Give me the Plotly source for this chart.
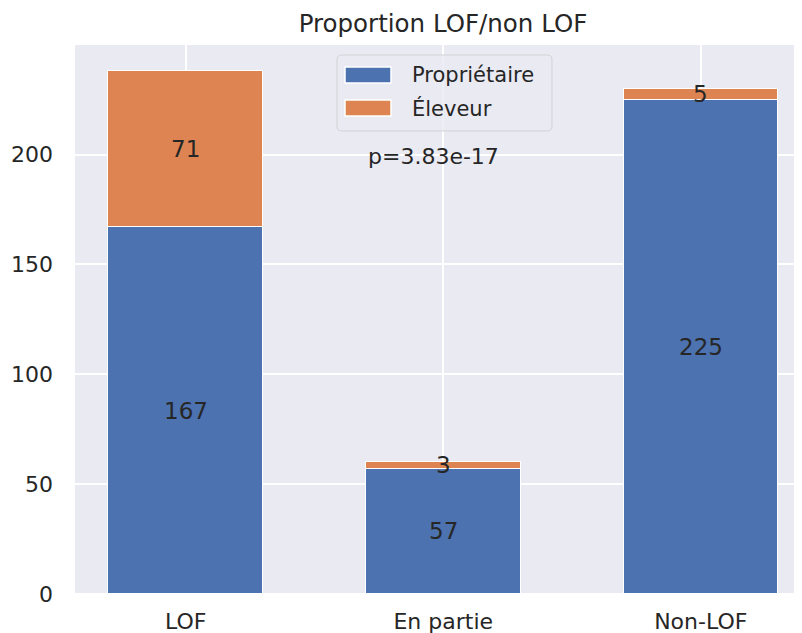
import plotly.graph_objects as go

# ---- data ----
categories = ["LOF", "En partie", "Non-LOF"]
series_names = ["Propriétaire", "Éleveur"]
proprietaire = [167, 57, 225]
eleveur = [71, 3, 5]
title_text = "Proportion LOF/non LOF"
pvalue_text = "p=3.83e-17"
y_ticks = [0, 50, 100, 150, 200]

BLUE = "#4C72B0"
ORANGE = "#DD8452"
BG = "#EAEAF2"
TXT = "#262626"
FONT = "DejaVu Sans"

# page body has an 8px default margin; compensate so plot lands where the reference has it
OFF = 8
PAGE_W, PAGE_H = 802, 633
W, H = PAGE_W - OFF, PAGE_H - OFF
# plot area in page pixels: left 75, right 802, top 45, bottom 594
ML, MR, MT, MB = 75 - OFF, 0, 45 - OFF, PAGE_H - 594
PW, PH = W - ML - MR, H - MT - MB

fig = go.Figure()
for name, vals, col in [(series_names[0], proprietaire, BLUE), (series_names[1], eleveur, ORANGE)]:
    fig.add_trace(go.Bar(
        x=categories, y=vals, name=name, width=0.6,
        marker=dict(color=col, line=dict(color="white", width=1.5)),
        showlegend=False,
    ))

annotations = []
for i, c in enumerate(categories):
    annotations.append(dict(x=c, y=proprietaire[i] / 2, text=str(proprietaire[i]), xref="x", yref="y",
                            showarrow=False, font=dict(family=FONT, size=23, color=TXT)))
    annotations.append(dict(x=c, y=proprietaire[i] + eleveur[i] / 2, text=str(eleveur[i]), xref="x", yref="y",
                            showarrow=False, font=dict(family=FONT, size=23, color=TXT)))

annotations.append(dict(x=0.963, y=199, text=pvalue_text, xref="x", yref="y", showarrow=False,
                        font=dict(family=FONT, size=22, color=TXT)))


def px2paper(px, py):
    # page pixel -> paper coords
    return (px - 75) / PW, (594 - py) / PH


lx0, ly0 = px2paper(337, 131)
lx1, ly1 = px2paper(552, 55)
rx, ry = 5 / PW, 5 / PH
path = (f"M {lx0+rx},{ly0} L {lx1-rx},{ly0} Q {lx1},{ly0} {lx1},{ly0+ry} "
        f"L {lx1},{ly1-ry} Q {lx1},{ly1} {lx1-rx},{ly1} L {lx0+rx},{ly1} "
        f"Q {lx0},{ly1} {lx0},{ly1-ry} L {lx0},{ly0+ry} Q {lx0},{ly0} {lx0+rx},{ly0} Z")
shapes = [dict(type="path", path=path, xref="paper", yref="paper",
               fillcolor="rgba(234,234,242,0.8)", line=dict(color="rgba(204,204,204,0.8)", width=1))]

rows = [(series_names[0], BLUE, 67, 83, 75), (series_names[1], ORANGE, 100, 116, 108)]
for name, col, top, bot, cy in rows:
    sx0, sy0 = px2paper(345, bot)
    sx1, sy1 = px2paper(391, top)
    shapes.append(dict(type="rect", xref="paper", yref="paper", x0=sx0, x1=sx1, y0=sy0, y1=sy1,
                       fillcolor=col, line=dict(color="white", width=1.5)))
    tx, ty = px2paper(410, cy)
    annotations.append(dict(x=tx, y=ty, xref="paper", yref="paper", text=name, showarrow=False,
                            xanchor="left", yanchor="middle", font=dict(family=FONT, size=21, color=TXT)))

fig.update_layout(
    barmode="stack",
    width=W, height=H,
    margin=dict(l=ML, r=MR, t=MT, b=MB, autoexpand=False),
    paper_bgcolor="white",
    plot_bgcolor=BG,
    font=dict(family=FONT, size=22, color=TXT),
    title=dict(text=title_text, x=(443 - OFF) / W, xanchor="center", y=1 - (23 - OFF) / H, yanchor="middle",
               font=dict(family=FONT, size=24.5, color=TXT)),
    annotations=annotations,
    shapes=shapes,
    bargap=0,
)
fig.update_xaxes(range=[-0.43, 2.393], showgrid=True, gridcolor="white", gridwidth=1.5,
                 showline=False, ticks="", tickfont=dict(family=FONT, size=22, color=TXT),
                 ticklabelstandoff=12, automargin=False)
fig.update_yaxes(range=[0, 249.9], tickvals=y_ticks, showgrid=True, gridcolor="white", gridwidth=1.5,
                 zeroline=True, zerolinecolor="white", zerolinewidth=1.5,
                 showline=False, ticks="", tickfont=dict(family=FONT, size=22, color=TXT),
                 ticklabelstandoff=21, automargin=False)

fig.write_html("out.html")
